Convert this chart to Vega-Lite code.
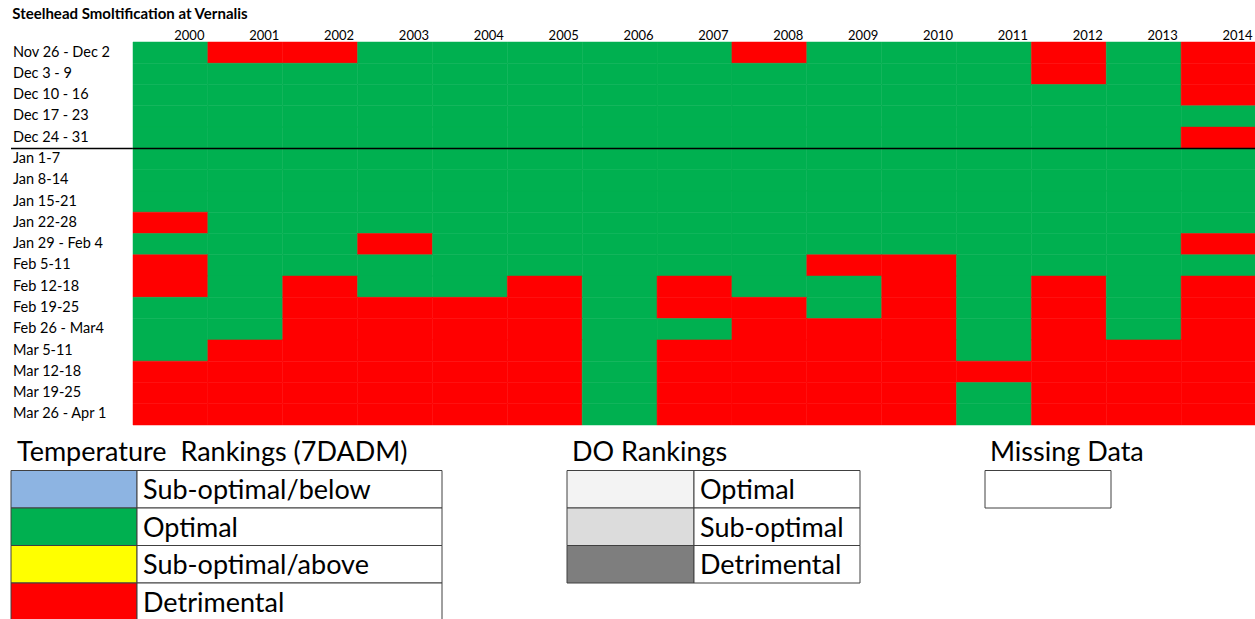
{
  "$schema": "https://vega.github.io/schema/vega-lite/v6.json",
  "background": "white",
  "padding": {"left": 10, "top": 7, "right": 0, "bottom": 0},
  "config": {"view": {"stroke": null}, "font": "Lato"},
  "title": {"text": "Steelhead Smoltification at Vernalis", "anchor": "start", "fontSize": 15, "fontWeight": "bold", "font": "Lato", "color": "black", "baseline": "alphabetic", "offset": -5, "dx": 2},
  "spacing": 7,
  "resolve": {"scale": {"x": "independent", "y": "independent", "color": "independent"}},
  "datasets": {
    "cells": [
      {"week": "Nov 26 - Dec 2", "year": 2000, "rank": "Optimal"},
      {"week": "Nov 26 - Dec 2", "year": 2001, "rank": "Detrimental"},
      {"week": "Nov 26 - Dec 2", "year": 2002, "rank": "Detrimental"},
      {"week": "Nov 26 - Dec 2", "year": 2003, "rank": "Optimal"},
      {"week": "Nov 26 - Dec 2", "year": 2004, "rank": "Optimal"},
      {"week": "Nov 26 - Dec 2", "year": 2005, "rank": "Optimal"},
      {"week": "Nov 26 - Dec 2", "year": 2006, "rank": "Optimal"},
      {"week": "Nov 26 - Dec 2", "year": 2007, "rank": "Optimal"},
      {"week": "Nov 26 - Dec 2", "year": 2008, "rank": "Detrimental"},
      {"week": "Nov 26 - Dec 2", "year": 2009, "rank": "Optimal"},
      {"week": "Nov 26 - Dec 2", "year": 2010, "rank": "Optimal"},
      {"week": "Nov 26 - Dec 2", "year": 2011, "rank": "Optimal"},
      {"week": "Nov 26 - Dec 2", "year": 2012, "rank": "Detrimental"},
      {"week": "Nov 26 - Dec 2", "year": 2013, "rank": "Optimal"},
      {"week": "Nov 26 - Dec 2", "year": 2014, "rank": "Detrimental"},
      {"week": "Dec 3 - 9", "year": 2000, "rank": "Optimal"},
      {"week": "Dec 3 - 9", "year": 2001, "rank": "Optimal"},
      {"week": "Dec 3 - 9", "year": 2002, "rank": "Optimal"},
      {"week": "Dec 3 - 9", "year": 2003, "rank": "Optimal"},
      {"week": "Dec 3 - 9", "year": 2004, "rank": "Optimal"},
      {"week": "Dec 3 - 9", "year": 2005, "rank": "Optimal"},
      {"week": "Dec 3 - 9", "year": 2006, "rank": "Optimal"},
      {"week": "Dec 3 - 9", "year": 2007, "rank": "Optimal"},
      {"week": "Dec 3 - 9", "year": 2008, "rank": "Optimal"},
      {"week": "Dec 3 - 9", "year": 2009, "rank": "Optimal"},
      {"week": "Dec 3 - 9", "year": 2010, "rank": "Optimal"},
      {"week": "Dec 3 - 9", "year": 2011, "rank": "Optimal"},
      {"week": "Dec 3 - 9", "year": 2012, "rank": "Detrimental"},
      {"week": "Dec 3 - 9", "year": 2013, "rank": "Optimal"},
      {"week": "Dec 3 - 9", "year": 2014, "rank": "Detrimental"},
      {"week": "Dec 10 - 16", "year": 2000, "rank": "Optimal"},
      {"week": "Dec 10 - 16", "year": 2001, "rank": "Optimal"},
      {"week": "Dec 10 - 16", "year": 2002, "rank": "Optimal"},
      {"week": "Dec 10 - 16", "year": 2003, "rank": "Optimal"},
      {"week": "Dec 10 - 16", "year": 2004, "rank": "Optimal"},
      {"week": "Dec 10 - 16", "year": 2005, "rank": "Optimal"},
      {"week": "Dec 10 - 16", "year": 2006, "rank": "Optimal"},
      {"week": "Dec 10 - 16", "year": 2007, "rank": "Optimal"},
      {"week": "Dec 10 - 16", "year": 2008, "rank": "Optimal"},
      {"week": "Dec 10 - 16", "year": 2009, "rank": "Optimal"},
      {"week": "Dec 10 - 16", "year": 2010, "rank": "Optimal"},
      {"week": "Dec 10 - 16", "year": 2011, "rank": "Optimal"},
      {"week": "Dec 10 - 16", "year": 2012, "rank": "Optimal"},
      {"week": "Dec 10 - 16", "year": 2013, "rank": "Optimal"},
      {"week": "Dec 10 - 16", "year": 2014, "rank": "Detrimental"},
      {"week": "Dec 17 - 23", "year": 2000, "rank": "Optimal"},
      {"week": "Dec 17 - 23", "year": 2001, "rank": "Optimal"},
      {"week": "Dec 17 - 23", "year": 2002, "rank": "Optimal"},
      {"week": "Dec 17 - 23", "year": 2003, "rank": "Optimal"},
      {"week": "Dec 17 - 23", "year": 2004, "rank": "Optimal"},
      {"week": "Dec 17 - 23", "year": 2005, "rank": "Optimal"},
      {"week": "Dec 17 - 23", "year": 2006, "rank": "Optimal"},
      {"week": "Dec 17 - 23", "year": 2007, "rank": "Optimal"},
      {"week": "Dec 17 - 23", "year": 2008, "rank": "Optimal"},
      {"week": "Dec 17 - 23", "year": 2009, "rank": "Optimal"},
      {"week": "Dec 17 - 23", "year": 2010, "rank": "Optimal"},
      {"week": "Dec 17 - 23", "year": 2011, "rank": "Optimal"},
      {"week": "Dec 17 - 23", "year": 2012, "rank": "Optimal"},
      {"week": "Dec 17 - 23", "year": 2013, "rank": "Optimal"},
      {"week": "Dec 17 - 23", "year": 2014, "rank": "Optimal"},
      {"week": "Dec 24 - 31", "year": 2000, "rank": "Optimal"},
      {"week": "Dec 24 - 31", "year": 2001, "rank": "Optimal"},
      {"week": "Dec 24 - 31", "year": 2002, "rank": "Optimal"},
      {"week": "Dec 24 - 31", "year": 2003, "rank": "Optimal"},
      {"week": "Dec 24 - 31", "year": 2004, "rank": "Optimal"},
      {"week": "Dec 24 - 31", "year": 2005, "rank": "Optimal"},
      {"week": "Dec 24 - 31", "year": 2006, "rank": "Optimal"},
      {"week": "Dec 24 - 31", "year": 2007, "rank": "Optimal"},
      {"week": "Dec 24 - 31", "year": 2008, "rank": "Optimal"},
      {"week": "Dec 24 - 31", "year": 2009, "rank": "Optimal"},
      {"week": "Dec 24 - 31", "year": 2010, "rank": "Optimal"},
      {"week": "Dec 24 - 31", "year": 2011, "rank": "Optimal"},
      {"week": "Dec 24 - 31", "year": 2012, "rank": "Optimal"},
      {"week": "Dec 24 - 31", "year": 2013, "rank": "Optimal"},
      {"week": "Dec 24 - 31", "year": 2014, "rank": "Detrimental"},
      {"week": "Jan 1-7", "year": 2000, "rank": "Optimal"},
      {"week": "Jan 1-7", "year": 2001, "rank": "Optimal"},
      {"week": "Jan 1-7", "year": 2002, "rank": "Optimal"},
      {"week": "Jan 1-7", "year": 2003, "rank": "Optimal"},
      {"week": "Jan 1-7", "year": 2004, "rank": "Optimal"},
      {"week": "Jan 1-7", "year": 2005, "rank": "Optimal"},
      {"week": "Jan 1-7", "year": 2006, "rank": "Optimal"},
      {"week": "Jan 1-7", "year": 2007, "rank": "Optimal"},
      {"week": "Jan 1-7", "year": 2008, "rank": "Optimal"},
      {"week": "Jan 1-7", "year": 2009, "rank": "Optimal"},
      {"week": "Jan 1-7", "year": 2010, "rank": "Optimal"},
      {"week": "Jan 1-7", "year": 2011, "rank": "Optimal"},
      {"week": "Jan 1-7", "year": 2012, "rank": "Optimal"},
      {"week": "Jan 1-7", "year": 2013, "rank": "Optimal"},
      {"week": "Jan 1-7", "year": 2014, "rank": "Optimal"},
      {"week": "Jan 8-14", "year": 2000, "rank": "Optimal"},
      {"week": "Jan 8-14", "year": 2001, "rank": "Optimal"},
      {"week": "Jan 8-14", "year": 2002, "rank": "Optimal"},
      {"week": "Jan 8-14", "year": 2003, "rank": "Optimal"},
      {"week": "Jan 8-14", "year": 2004, "rank": "Optimal"},
      {"week": "Jan 8-14", "year": 2005, "rank": "Optimal"},
      {"week": "Jan 8-14", "year": 2006, "rank": "Optimal"},
      {"week": "Jan 8-14", "year": 2007, "rank": "Optimal"},
      {"week": "Jan 8-14", "year": 2008, "rank": "Optimal"},
      {"week": "Jan 8-14", "year": 2009, "rank": "Optimal"},
      {"week": "Jan 8-14", "year": 2010, "rank": "Optimal"},
      {"week": "Jan 8-14", "year": 2011, "rank": "Optimal"},
      {"week": "Jan 8-14", "year": 2012, "rank": "Optimal"},
      {"week": "Jan 8-14", "year": 2013, "rank": "Optimal"},
      {"week": "Jan 8-14", "year": 2014, "rank": "Optimal"},
      {"week": "Jan 15-21", "year": 2000, "rank": "Optimal"},
      {"week": "Jan 15-21", "year": 2001, "rank": "Optimal"},
      {"week": "Jan 15-21", "year": 2002, "rank": "Optimal"},
      {"week": "Jan 15-21", "year": 2003, "rank": "Optimal"},
      {"week": "Jan 15-21", "year": 2004, "rank": "Optimal"},
      {"week": "Jan 15-21", "year": 2005, "rank": "Optimal"},
      {"week": "Jan 15-21", "year": 2006, "rank": "Optimal"},
      {"week": "Jan 15-21", "year": 2007, "rank": "Optimal"},
      {"week": "Jan 15-21", "year": 2008, "rank": "Optimal"},
      {"week": "Jan 15-21", "year": 2009, "rank": "Optimal"},
      {"week": "Jan 15-21", "year": 2010, "rank": "Optimal"},
      {"week": "Jan 15-21", "year": 2011, "rank": "Optimal"},
      {"week": "Jan 15-21", "year": 2012, "rank": "Optimal"},
      {"week": "Jan 15-21", "year": 2013, "rank": "Optimal"},
      {"week": "Jan 15-21", "year": 2014, "rank": "Optimal"},
      {"week": "Jan 22-28", "year": 2000, "rank": "Detrimental"},
      {"week": "Jan 22-28", "year": 2001, "rank": "Optimal"},
      {"week": "Jan 22-28", "year": 2002, "rank": "Optimal"},
      {"week": "Jan 22-28", "year": 2003, "rank": "Optimal"},
      {"week": "Jan 22-28", "year": 2004, "rank": "Optimal"},
      {"week": "Jan 22-28", "year": 2005, "rank": "Optimal"},
      {"week": "Jan 22-28", "year": 2006, "rank": "Optimal"},
      {"week": "Jan 22-28", "year": 2007, "rank": "Optimal"},
      {"week": "Jan 22-28", "year": 2008, "rank": "Optimal"},
      {"week": "Jan 22-28", "year": 2009, "rank": "Optimal"},
      {"week": "Jan 22-28", "year": 2010, "rank": "Optimal"},
      {"week": "Jan 22-28", "year": 2011, "rank": "Optimal"},
      {"week": "Jan 22-28", "year": 2012, "rank": "Optimal"},
      {"week": "Jan 22-28", "year": 2013, "rank": "Optimal"},
      {"week": "Jan 22-28", "year": 2014, "rank": "Optimal"},
      {"week": "Jan 29 - Feb 4", "year": 2000, "rank": "Optimal"},
      {"week": "Jan 29 - Feb 4", "year": 2001, "rank": "Optimal"},
      {"week": "Jan 29 - Feb 4", "year": 2002, "rank": "Optimal"},
      {"week": "Jan 29 - Feb 4", "year": 2003, "rank": "Detrimental"},
      {"week": "Jan 29 - Feb 4", "year": 2004, "rank": "Optimal"},
      {"week": "Jan 29 - Feb 4", "year": 2005, "rank": "Optimal"},
      {"week": "Jan 29 - Feb 4", "year": 2006, "rank": "Optimal"},
      {"week": "Jan 29 - Feb 4", "year": 2007, "rank": "Optimal"},
      {"week": "Jan 29 - Feb 4", "year": 2008, "rank": "Optimal"},
      {"week": "Jan 29 - Feb 4", "year": 2009, "rank": "Optimal"},
      {"week": "Jan 29 - Feb 4", "year": 2010, "rank": "Optimal"},
      {"week": "Jan 29 - Feb 4", "year": 2011, "rank": "Optimal"},
      {"week": "Jan 29 - Feb 4", "year": 2012, "rank": "Optimal"},
      {"week": "Jan 29 - Feb 4", "year": 2013, "rank": "Optimal"},
      {"week": "Jan 29 - Feb 4", "year": 2014, "rank": "Detrimental"},
      {"week": "Feb 5-11", "year": 2000, "rank": "Detrimental"},
      {"week": "Feb 5-11", "year": 2001, "rank": "Optimal"},
      {"week": "Feb 5-11", "year": 2002, "rank": "Optimal"},
      {"week": "Feb 5-11", "year": 2003, "rank": "Optimal"},
      {"week": "Feb 5-11", "year": 2004, "rank": "Optimal"},
      {"week": "Feb 5-11", "year": 2005, "rank": "Optimal"},
      {"week": "Feb 5-11", "year": 2006, "rank": "Optimal"},
      {"week": "Feb 5-11", "year": 2007, "rank": "Optimal"},
      {"week": "Feb 5-11", "year": 2008, "rank": "Optimal"},
      {"week": "Feb 5-11", "year": 2009, "rank": "Detrimental"},
      {"week": "Feb 5-11", "year": 2010, "rank": "Detrimental"},
      {"week": "Feb 5-11", "year": 2011, "rank": "Optimal"},
      {"week": "Feb 5-11", "year": 2012, "rank": "Optimal"},
      {"week": "Feb 5-11", "year": 2013, "rank": "Optimal"},
      {"week": "Feb 5-11", "year": 2014, "rank": "Optimal"},
      {"week": "Feb 12-18", "year": 2000, "rank": "Detrimental"},
      {"week": "Feb 12-18", "year": 2001, "rank": "Optimal"},
      {"week": "Feb 12-18", "year": 2002, "rank": "Detrimental"},
      {"week": "Feb 12-18", "year": 2003, "rank": "Optimal"},
      {"week": "Feb 12-18", "year": 2004, "rank": "Optimal"},
      {"week": "Feb 12-18", "year": 2005, "rank": "Detrimental"},
      {"week": "Feb 12-18", "year": 2006, "rank": "Optimal"},
      {"week": "Feb 12-18", "year": 2007, "rank": "Detrimental"},
      {"week": "Feb 12-18", "year": 2008, "rank": "Optimal"},
      {"week": "Feb 12-18", "year": 2009, "rank": "Optimal"},
      {"week": "Feb 12-18", "year": 2010, "rank": "Detrimental"},
      {"week": "Feb 12-18", "year": 2011, "rank": "Optimal"},
      {"week": "Feb 12-18", "year": 2012, "rank": "Detrimental"},
      {"week": "Feb 12-18", "year": 2013, "rank": "Optimal"},
      {"week": "Feb 12-18", "year": 2014, "rank": "Detrimental"},
      {"week": "Feb 19-25", "year": 2000, "rank": "Optimal"},
      {"week": "Feb 19-25", "year": 2001, "rank": "Optimal"},
      {"week": "Feb 19-25", "year": 2002, "rank": "Detrimental"},
      {"week": "Feb 19-25", "year": 2003, "rank": "Detrimental"},
      {"week": "Feb 19-25", "year": 2004, "rank": "Detrimental"},
      {"week": "Feb 19-25", "year": 2005, "rank": "Detrimental"},
      {"week": "Feb 19-25", "year": 2006, "rank": "Optimal"},
      {"week": "Feb 19-25", "year": 2007, "rank": "Detrimental"},
      {"week": "Feb 19-25", "year": 2008, "rank": "Detrimental"},
      {"week": "Feb 19-25", "year": 2009, "rank": "Optimal"},
      {"week": "Feb 19-25", "year": 2010, "rank": "Detrimental"},
      {"week": "Feb 19-25", "year": 2011, "rank": "Optimal"},
      {"week": "Feb 19-25", "year": 2012, "rank": "Detrimental"},
      {"week": "Feb 19-25", "year": 2013, "rank": "Optimal"},
      {"week": "Feb 19-25", "year": 2014, "rank": "Detrimental"},
      {"week": "Feb 26 - Mar4", "year": 2000, "rank": "Optimal"},
      {"week": "Feb 26 - Mar4", "year": 2001, "rank": "Optimal"},
      {"week": "Feb 26 - Mar4", "year": 2002, "rank": "Detrimental"},
      {"week": "Feb 26 - Mar4", "year": 2003, "rank": "Detrimental"},
      {"week": "Feb 26 - Mar4", "year": 2004, "rank": "Detrimental"},
      {"week": "Feb 26 - Mar4", "year": 2005, "rank": "Detrimental"},
      {"week": "Feb 26 - Mar4", "year": 2006, "rank": "Optimal"},
      {"week": "Feb 26 - Mar4", "year": 2007, "rank": "Optimal"},
      {"week": "Feb 26 - Mar4", "year": 2008, "rank": "Detrimental"},
      {"week": "Feb 26 - Mar4", "year": 2009, "rank": "Detrimental"},
      {"week": "Feb 26 - Mar4", "year": 2010, "rank": "Detrimental"},
      {"week": "Feb 26 - Mar4", "year": 2011, "rank": "Optimal"},
      {"week": "Feb 26 - Mar4", "year": 2012, "rank": "Detrimental"},
      {"week": "Feb 26 - Mar4", "year": 2013, "rank": "Optimal"},
      {"week": "Feb 26 - Mar4", "year": 2014, "rank": "Detrimental"},
      {"week": "Mar 5-11", "year": 2000, "rank": "Optimal"},
      {"week": "Mar 5-11", "year": 2001, "rank": "Detrimental"},
      {"week": "Mar 5-11", "year": 2002, "rank": "Detrimental"},
      {"week": "Mar 5-11", "year": 2003, "rank": "Detrimental"},
      {"week": "Mar 5-11", "year": 2004, "rank": "Detrimental"},
      {"week": "Mar 5-11", "year": 2005, "rank": "Detrimental"},
      {"week": "Mar 5-11", "year": 2006, "rank": "Optimal"},
      {"week": "Mar 5-11", "year": 2007, "rank": "Detrimental"},
      {"week": "Mar 5-11", "year": 2008, "rank": "Detrimental"},
      {"week": "Mar 5-11", "year": 2009, "rank": "Detrimental"},
      {"week": "Mar 5-11", "year": 2010, "rank": "Detrimental"},
      {"week": "Mar 5-11", "year": 2011, "rank": "Optimal"},
      {"week": "Mar 5-11", "year": 2012, "rank": "Detrimental"},
      {"week": "Mar 5-11", "year": 2013, "rank": "Detrimental"},
      {"week": "Mar 5-11", "year": 2014, "rank": "Detrimental"},
      {"week": "Mar 12-18", "year": 2000, "rank": "Detrimental"},
      {"week": "Mar 12-18", "year": 2001, "rank": "Detrimental"},
      {"week": "Mar 12-18", "year": 2002, "rank": "Detrimental"},
      {"week": "Mar 12-18", "year": 2003, "rank": "Detrimental"},
      {"week": "Mar 12-18", "year": 2004, "rank": "Detrimental"},
      {"week": "Mar 12-18", "year": 2005, "rank": "Detrimental"},
      {"week": "Mar 12-18", "year": 2006, "rank": "Optimal"},
      {"week": "Mar 12-18", "year": 2007, "rank": "Detrimental"},
      {"week": "Mar 12-18", "year": 2008, "rank": "Detrimental"},
      {"week": "Mar 12-18", "year": 2009, "rank": "Detrimental"},
      {"week": "Mar 12-18", "year": 2010, "rank": "Detrimental"},
      {"week": "Mar 12-18", "year": 2011, "rank": "Detrimental"},
      {"week": "Mar 12-18", "year": 2012, "rank": "Detrimental"},
      {"week": "Mar 12-18", "year": 2013, "rank": "Detrimental"},
      {"week": "Mar 12-18", "year": 2014, "rank": "Detrimental"},
      {"week": "Mar 19-25", "year": 2000, "rank": "Detrimental"},
      {"week": "Mar 19-25", "year": 2001, "rank": "Detrimental"},
      {"week": "Mar 19-25", "year": 2002, "rank": "Detrimental"},
      {"week": "Mar 19-25", "year": 2003, "rank": "Detrimental"},
      {"week": "Mar 19-25", "year": 2004, "rank": "Detrimental"},
      {"week": "Mar 19-25", "year": 2005, "rank": "Detrimental"},
      {"week": "Mar 19-25", "year": 2006, "rank": "Optimal"},
      {"week": "Mar 19-25", "year": 2007, "rank": "Detrimental"},
      {"week": "Mar 19-25", "year": 2008, "rank": "Detrimental"},
      {"week": "Mar 19-25", "year": 2009, "rank": "Detrimental"},
      {"week": "Mar 19-25", "year": 2010, "rank": "Detrimental"},
      {"week": "Mar 19-25", "year": 2011, "rank": "Optimal"},
      {"week": "Mar 19-25", "year": 2012, "rank": "Detrimental"},
      {"week": "Mar 19-25", "year": 2013, "rank": "Detrimental"},
      {"week": "Mar 19-25", "year": 2014, "rank": "Detrimental"},
      {"week": "Mar 26 - Apr 1", "year": 2000, "rank": "Detrimental"},
      {"week": "Mar 26 - Apr 1", "year": 2001, "rank": "Detrimental"},
      {"week": "Mar 26 - Apr 1", "year": 2002, "rank": "Detrimental"},
      {"week": "Mar 26 - Apr 1", "year": 2003, "rank": "Detrimental"},
      {"week": "Mar 26 - Apr 1", "year": 2004, "rank": "Detrimental"},
      {"week": "Mar 26 - Apr 1", "year": 2005, "rank": "Detrimental"},
      {"week": "Mar 26 - Apr 1", "year": 2006, "rank": "Optimal"},
      {"week": "Mar 26 - Apr 1", "year": 2007, "rank": "Detrimental"},
      {"week": "Mar 26 - Apr 1", "year": 2008, "rank": "Detrimental"},
      {"week": "Mar 26 - Apr 1", "year": 2009, "rank": "Detrimental"},
      {"week": "Mar 26 - Apr 1", "year": 2010, "rank": "Detrimental"},
      {"week": "Mar 26 - Apr 1", "year": 2011, "rank": "Optimal"},
      {"week": "Mar 26 - Apr 1", "year": 2012, "rank": "Detrimental"},
      {"week": "Mar 26 - Apr 1", "year": 2013, "rank": "Detrimental"},
      {"week": "Mar 26 - Apr 1", "year": 2014, "rank": "Detrimental"}
    ]
  },
  "vconcat": [
    {
      "spacing": 0,
      "bounds": "flush",
      "resolve": {"scale": {"x": "independent", "y": "independent", "color": "independent"}},
      "hconcat": [
        {
          "width": 122,
          "height": 383,
          "data": {"name": "cells"},
          "transform": [{"filter": "datum.year === 2000"}],
          "layer": [
            {
              "mark": {"type": "text", "align": "left", "baseline": "middle", "dx": 2, "fontSize": 14.5, "font": "Lato", "color": "black"},
              "encoding": {
                "y": {"field": "week", "type": "ordinal", "scale": {"domain": ["Nov 26 - Dec 2", "Dec 3 - 9", "Dec 10 - 16", "Dec 17 - 23", "Dec 24 - 31", "Jan 1-7", "Jan 8-14", "Jan 15-21", "Jan 22-28", "Jan 29 - Feb 4", "Feb 5-11", "Feb 12-18", "Feb 19-25", "Feb 26 - Mar4", "Mar 5-11", "Mar 12-18", "Mar 19-25", "Mar 26 - Apr 1"], "paddingInner": 0, "paddingOuter": 0}, "axis": null},
                "x": {"datum": 0, "type": "quantitative", "scale": {"domain": [0, 1]}, "axis": null},
                "text": {"field": "week"}
              }
            },
            {
              "transform": [{"filter": "datum.week === 'Jan 1-7'"}],
              "mark": {"type": "rule", "color": "black", "strokeWidth": 1.5},
              "encoding": {
                "y": {"field": "week", "type": "ordinal", "bandPosition": 0, "scale": {"domain": ["Nov 26 - Dec 2", "Dec 3 - 9", "Dec 10 - 16", "Dec 17 - 23", "Dec 24 - 31", "Jan 1-7", "Jan 8-14", "Jan 15-21", "Jan 22-28", "Jan 29 - Feb 4", "Feb 5-11", "Feb 12-18", "Feb 19-25", "Feb 26 - Mar4", "Mar 5-11", "Mar 12-18", "Mar 19-25", "Mar 26 - Apr 1"], "paddingInner": 0, "paddingOuter": 0}, "axis": null}
              }
            }
          ]
        },
        {
          "width": 1123,
          "height": 383,
          "data": {"name": "cells"},
          "layer": [
            {
              "mark": {"type": "rect", "strokeWidth": 0.5},
              "encoding": {
                "x": {
                  "field": "year", "type": "ordinal",
                  "scale": {"paddingInner": 0, "paddingOuter": 0},
                  "axis": {"orient": "top", "title": null, "domain": false, "ticks": false, "tickSize": 0, "labelAngle": 0, "labelAlign": "right", "labelBaseline": "alphabetic", "labelOffset": 34, "labelPadding": 3, "labelFontSize": 13, "labelFont": "Lato", "labelColor": "black"}
                },
                "y": {"field": "week", "type": "ordinal", "scale": {"domain": ["Nov 26 - Dec 2", "Dec 3 - 9", "Dec 10 - 16", "Dec 17 - 23", "Dec 24 - 31", "Jan 1-7", "Jan 8-14", "Jan 15-21", "Jan 22-28", "Jan 29 - Feb 4", "Feb 5-11", "Feb 12-18", "Feb 19-25", "Feb 26 - Mar4", "Mar 5-11", "Mar 12-18", "Mar 19-25", "Mar 26 - Apr 1"], "paddingInner": 0, "paddingOuter": 0}, "axis": null},
                "color": {
                  "field": "rank", "type": "nominal",
                  "scale": {"domain": ["Sub-optimal/below", "Optimal", "Sub-optimal/above", "Detrimental"], "range": ["#8DB4E2", "#00B050", "#FFFF00", "#FF0000"]},
                  "legend": null
                },
                "stroke": {
                  "field": "rank", "type": "nominal",
                  "scale": {"domain": ["Sub-optimal/below", "Optimal", "Sub-optimal/above", "Detrimental"], "range": ["#8DB4E2", "#00B050", "#FFFF00", "#FF0000"]},
                  "legend": null
                }
              }
            },
            {
              "transform": [{"filter": "datum.week === 'Jan 1-7' && datum.year === 2000"}],
              "mark": {"type": "rule", "color": "black", "strokeWidth": 1.5},
              "encoding": {
                "y": {"field": "week", "type": "ordinal", "bandPosition": 0, "scale": {"domain": ["Nov 26 - Dec 2", "Dec 3 - 9", "Dec 10 - 16", "Dec 17 - 23", "Dec 24 - 31", "Jan 1-7", "Jan 8-14", "Jan 15-21", "Jan 22-28", "Jan 29 - Feb 4", "Feb 5-11", "Feb 12-18", "Feb 19-25", "Feb 26 - Mar4", "Mar 5-11", "Mar 12-18", "Mar 19-25", "Mar 26 - Apr 1"], "paddingInner": 0, "paddingOuter": 0}, "axis": null}
              }
            }
          ]
        }
      ]
    },
    {
      "spacing": 123,
      "resolve": {"scale": {"x": "independent", "y": "independent", "color": "independent"}},
      "hconcat": [
        {
          "width": 431,
          "height": 187.5,
          "data": {"values": [
            {"rank": "Temperature\u00a0 Rankings (7DADM)", "part": "head"},
            {"rank": "Sub-optimal/below", "part": "item"},
            {"rank": "Optimal", "part": "item"},
            {"rank": "Sub-optimal/above", "part": "item"},
            {"rank": "Detrimental", "part": "item"}
          ]},
          "encoding": {
            "y": {"field": "rank", "type": "nominal", "scale": {"domain": ["Temperature\u00a0 Rankings (7DADM)", "Sub-optimal/below", "Optimal", "Sub-optimal/above", "Detrimental"], "paddingInner": 0, "paddingOuter": 0}, "axis": null}
          },
          "layer": [
            {
              "transform": [{"filter": "datum.part === 'item'"}],
              "mark": {"type": "rect", "stroke": "#404040", "strokeWidth": 1},
              "encoding": {
                "x": {"datum": 0, "type": "quantitative", "scale": {"domain": [0, 1]}, "axis": null},
                "x2": {"datum": 0.2924},
                "color": {"field": "rank", "type": "nominal", "scale": {"domain": ["Sub-optimal/below", "Optimal", "Sub-optimal/above", "Detrimental"], "range": ["#8DB4E2", "#00B050", "#FFFF00", "#FF0000"]}, "legend": null}
              }
            },
            {
              "transform": [{"filter": "datum.part === 'item'"}],
              "mark": {"type": "rect", "fill": "white", "stroke": "#404040", "strokeWidth": 1},
              "encoding": {
                "x": {"datum": 0.2924, "type": "quantitative", "scale": {"domain": [0, 1]}, "axis": null},
                "x2": {"datum": 1}
              }
            },
            {
              "transform": [{"filter": "datum.part === 'item'"}],
              "mark": {"type": "text", "align": "left", "baseline": "middle", "dy": 2, "fontSize": 27, "font": "Lato", "color": "black"},
              "encoding": {
                "x": {"datum": 0.3063, "type": "quantitative", "scale": {"domain": [0, 1]}, "axis": null},
                "text": {"field": "rank"}
              }
            },
            {
              "transform": [{"filter": "datum.part === 'head'"}],
              "mark": {"type": "text", "align": "left", "baseline": "middle", "dx": 6, "dy": 1, "fontSize": 27, "font": "Lato", "color": "black"},
              "encoding": {
                "x": {"datum": 0, "type": "quantitative", "scale": {"domain": [0, 1]}, "axis": null},
                "text": {"field": "rank"}
              }
            }
          ]
        },
        {
          "width": 293,
          "height": 150,
          "data": {"values": [
            {"level": "DO Rankings", "part": "head"},
            {"level": "Optimal", "part": "item"},
            {"level": "Sub-optimal", "part": "item"},
            {"level": "Detrimental", "part": "item"}
          ]},
          "encoding": {
            "y": {"field": "level", "type": "nominal", "scale": {"domain": ["DO Rankings", "Optimal", "Sub-optimal", "Detrimental"], "paddingInner": 0, "paddingOuter": 0}, "axis": null}
          },
          "layer": [
            {
              "transform": [{"filter": "datum.part === 'item'"}],
              "mark": {"type": "rect", "stroke": "#404040", "strokeWidth": 1},
              "encoding": {
                "x": {"datum": 0, "type": "quantitative", "scale": {"domain": [0, 1]}, "axis": null},
                "x2": {"datum": 0.4334},
                "color": {"field": "level", "type": "nominal", "scale": {"domain": ["Optimal", "Sub-optimal", "Detrimental"], "range": ["#F3F3F3", "#DCDCDC", "#7E7E7E"]}, "legend": null}
              }
            },
            {
              "transform": [{"filter": "datum.part === 'item'"}],
              "mark": {"type": "rect", "fill": "white", "stroke": "#404040", "strokeWidth": 1},
              "encoding": {
                "x": {"datum": 0.4334, "type": "quantitative", "scale": {"domain": [0, 1]}, "axis": null},
                "x2": {"datum": 1}
              }
            },
            {
              "transform": [{"filter": "datum.part === 'item'"}],
              "mark": {"type": "text", "align": "left", "baseline": "middle", "dy": 2, "fontSize": 27, "font": "Lato", "color": "black"},
              "encoding": {
                "x": {"datum": 0.454, "type": "quantitative", "scale": {"domain": [0, 1]}, "axis": null},
                "text": {"field": "level"}
              }
            },
            {
              "transform": [{"filter": "datum.part === 'head'"}],
              "mark": {"type": "text", "align": "left", "baseline": "middle", "dx": 5, "dy": 1, "fontSize": 27, "font": "Lato", "color": "black"},
              "encoding": {
                "x": {"datum": 0, "type": "quantitative", "scale": {"domain": [0, 1]}, "axis": null},
                "text": {"field": "level"}
              }
            }
          ]
        },
        {
          "width": 126,
          "height": 75,
          "data": {"values": [
            {"item": "Missing Data", "part": "head"},
            {"item": "missing", "part": "item"}
          ]},
          "encoding": {
            "y": {"field": "item", "type": "nominal", "scale": {"domain": ["Missing Data", "missing"], "paddingInner": 0, "paddingOuter": 0}, "axis": null}
          },
          "layer": [
            {
              "transform": [{"filter": "datum.part === 'item'"}],
              "mark": {"type": "rect", "fill": "white", "stroke": "#404040", "strokeWidth": 1},
              "encoding": {
                "x": {"datum": 0, "type": "quantitative", "scale": {"domain": [0, 1]}, "axis": null},
                "x2": {"datum": 1}
              }
            },
            {
              "transform": [{"filter": "datum.part === 'head'"}],
              "mark": {"type": "text", "align": "left", "baseline": "middle", "dx": 5, "dy": 1, "fontSize": 27, "font": "Lato", "color": "black"},
              "encoding": {
                "x": {"datum": 0, "type": "quantitative", "scale": {"domain": [0, 1]}, "axis": null},
                "text": {"field": "item"}
              }
            }
          ]
        }
      ]
    }
  ]
}
